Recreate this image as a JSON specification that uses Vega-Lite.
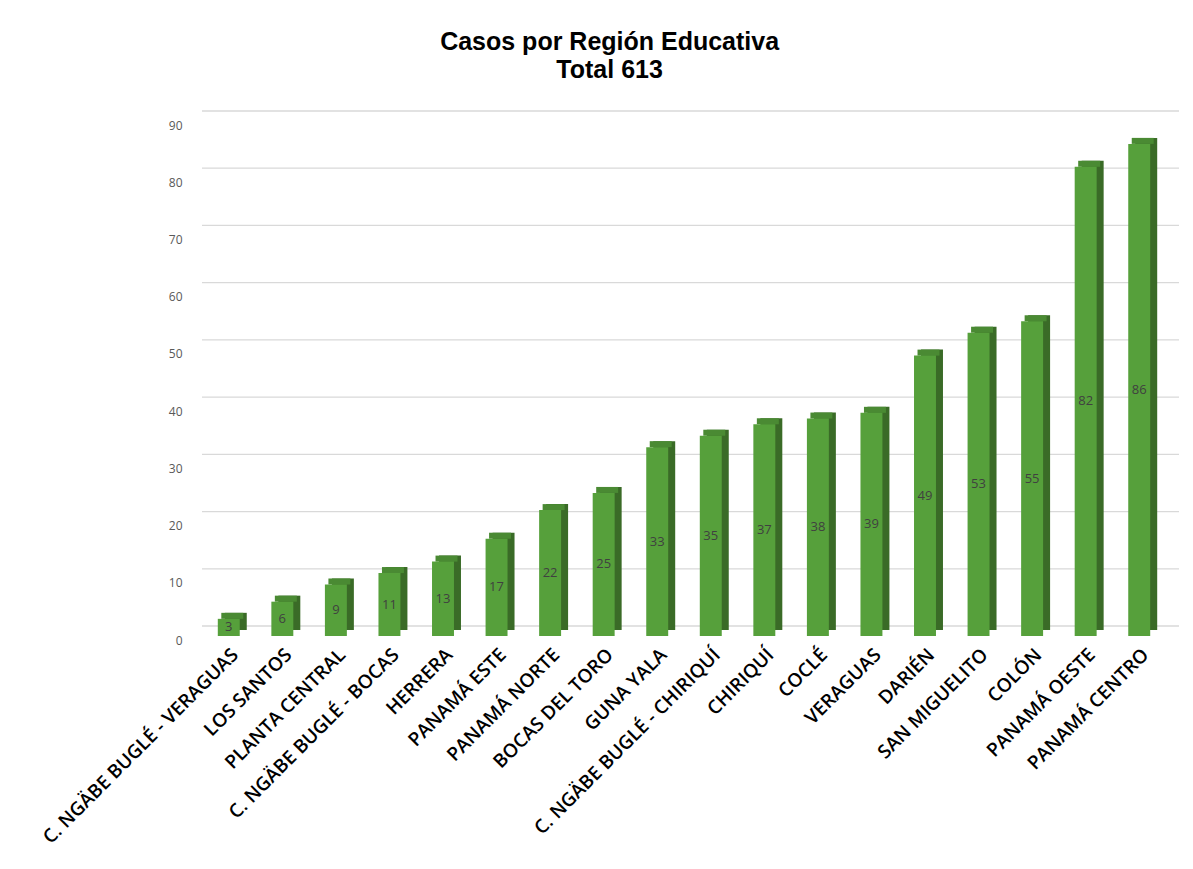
{
  "$schema": "https://vega.github.io/schema/vega-lite/v6.json",
  "width": 964,
  "height": 515,
  "padding": {"left": 39, "top": 30, "right": 14, "bottom": 5},
  "background": "white",
  "title": {
    "text": ["Casos por Región Educativa", "Total 613"],
    "font": "Liberation Sans",
    "fontSize": 25,
    "fontWeight": "bold",
    "color": "#000000",
    "lineHeight": 28,
    "anchor": "middle",
    "frame": "bounds",
    "offset": 27
  },
  "config": {"view": {"stroke": null}},
  "datasets": {
    "casos": [
      {"region": "C. NGÄBE BUGLÉ - VERAGUAS", "casos": 3},
      {"region": "LOS SANTOS", "casos": 6},
      {"region": "PLANTA CENTRAL", "casos": 9},
      {"region": "C. NGÄBE BUGLÉ - BOCAS", "casos": 11},
      {"region": "HERRERA", "casos": 13},
      {"region": "PANAMÁ ESTE", "casos": 17},
      {"region": "PANAMÁ NORTE", "casos": 22},
      {"region": "BOCAS DEL TORO", "casos": 25},
      {"region": "GUNA YALA", "casos": 33},
      {"region": "C. NGÄBE BUGLÉ - CHIRIQUÍ", "casos": 35},
      {"region": "CHIRIQUÍ", "casos": 37},
      {"region": "COCLÉ", "casos": 38},
      {"region": "VERAGUAS", "casos": 39},
      {"region": "DARIÉN", "casos": 49},
      {"region": "SAN MIGUELITO", "casos": 53},
      {"region": "COLÓN", "casos": 55},
      {"region": "PANAMÁ OESTE", "casos": 82},
      {"region": "PANAMÁ CENTRO", "casos": 86}
    ],
    "grid": [
      {"v": 0}, {"v": 10}, {"v": 20}, {"v": 30}, {"v": 40},
      {"v": 50}, {"v": 60}, {"v": 70}, {"v": 80}, {"v": 90}
    ]
  },
  "resolve": {"scale": {"y": "independent"}},
  "layer": [
    {
      "data": {"name": "grid"},
      "mark": {"type": "rule", "color": "#D9D9D9", "strokeWidth": 1.3, "xOffset": 13, "x2Offset": 13, "yOffset": -10},
      "encoding": {
        "y": {"field": "v", "type": "quantitative", "scale": {"domain": [0, 90], "nice": false}, "axis": null}
      }
    },
    {
      "data": {"name": "casos"},
      "mark": {"type": "bar", "color": "#3A6B27", "xOffset": 7, "yOffset": -6, "y2Offset": -6},
      "encoding": {
        "x": {
          "field": "region", "type": "nominal", "sort": null,
          "scale": {"paddingInner": 0.59, "paddingOuter": 0.295},
          "axis": {
            "title": null, "labelAngle": -45, "labelFont": "Open Sans", "labelFontSize": 19,
            "labelFontWeight": 600, "labelColor": "#000000", "domain": false, "ticks": false,
            "labelPadding": 9, "labelLimit": 400
          }
        },
        "y": {"field": "casos", "type": "quantitative", "scale": {"domain": [0, 90], "nice": false}, "axis": null}
      }
    },
    {
      "data": {"name": "casos"},
      "mark": {"type": "bar", "color": "#4A8A33", "xOffset": 3.5, "yOffset": -6, "y2Offset": 0},
      "encoding": {
        "x": {"field": "region", "type": "nominal", "sort": null},
        "y": {"field": "casos", "type": "quantitative", "scale": {"domain": [0, 90], "nice": false}, "axis": null},
        "y2": {"field": "casos"}
      }
    },
    {
      "data": {"name": "casos"},
      "mark": {"type": "bar", "color": "#56A03B"},
      "encoding": {
        "x": {"field": "region", "type": "nominal", "sort": null},
        "y": {
          "field": "casos", "type": "quantitative",
          "scale": {"domain": [0, 90], "nice": false},
          "axis": {
            "title": null, "values": [0, 10, 20, 30, 40, 50, 60, 70, 80, 90],
            "labelColor": "#595959", "labelFont": "Open Sans", "labelFontSize": 12,
            "ticks": false, "domain": false, "grid": false, "labelPadding": 20, "labelOffset": 4
          }
        }
      }
    },
    {
      "data": {"name": "casos"},
      "mark": {"type": "text", "font": "Open Sans", "fontSize": 13, "color": "#404040", "baseline": "middle"},
      "encoding": {
        "x": {"field": "region", "type": "nominal", "sort": null},
        "y": {"field": "casos", "type": "quantitative", "scale": {"domain": [0, 180], "nice": false}, "axis": null},
        "text": {"field": "casos", "type": "quantitative"}
      }
    }
  ]
}
